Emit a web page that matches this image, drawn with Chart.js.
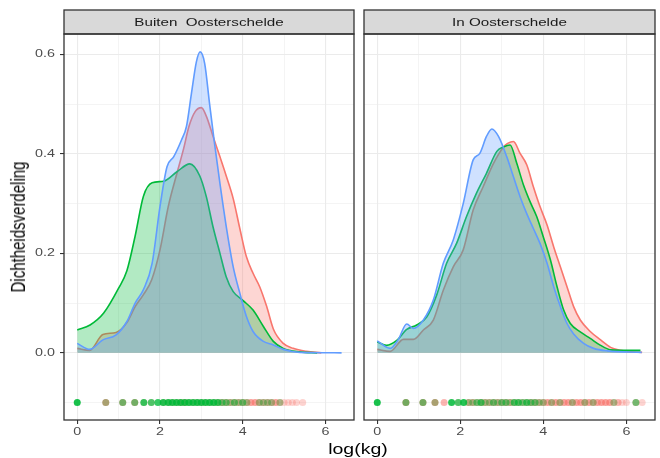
<!DOCTYPE html>
<html lang="nl">
<head>
<meta charset="UTF-8" />
<title>Dichtheidsverdeling log(kg)</title>
<script src="https://cdn.jsdelivr.net/npm/chart.js"></script>
<style>
    body {
        margin: 0;
        background: #fff;
        font-family: "Liberation Sans", Arial, sans-serif;
    }
    #wrap {
        position: relative;
        width: 660px;
        height: 458px;
    }
    canvas {
        position: absolute;
        top: 0;
    }
    #buiten { left: 0; }
    #in { left: 360px; }
    .ytitle {
        position: absolute;
        left: 18px;
        top: 227px;
        transform: translate(-50%, -50%) rotate(-90deg) scaleY(1.3);
        font-size: 15px;
        color: #000;
        white-space: nowrap;
    }
    .xtitle {
        position: absolute;
        left: 358px;
        top: 448px;
        transform: translate(-50%, -50%) scaleX(1.3);
        font-size: 15px;
        color: #000;
        white-space: nowrap;
    }
</style>
</head>
<body>
<div id="wrap">
    <canvas id="buiten" width="358" height="458"></canvas>
    <canvas id="in" width="300" height="458"></canvas>
    <div class="ytitle">Dichtheidsverdeling</div>
    <div class="xtitle">log(kg)</div>
</div>

<script>
const facets = ["Buiten  Oosterschelde", "In Oosterschelde"];
const xTicks = [0, 1, 2, 3, 4, 5, 6];
const yTicks = [-0.1, 0, 0.1, 0.2, 0.3, 0.4, 0.5, 0.6];
const rugY = -0.1;

// --- Buiten Oosterschelde: density curves ---
const buitenRedX = [0, 0.3, 0.62, 0.94, 1.2, 1.4, 1.6, 1.8, 2.0, 2.2, 2.41, 2.57, 2.7, 2.85, 3.0, 3.12, 3.28, 3.45, 3.6, 3.77, 3.93, 4.09, 4.25, 4.41, 4.58, 4.74, 4.98, 5.22, 5.54, 5.9];
const buitenRedY = [0.009, 0.005, 0.037, 0.041, 0.061, 0.093, 0.117, 0.147, 0.207, 0.294, 0.361, 0.41, 0.455, 0.485, 0.493, 0.476, 0.436, 0.394, 0.356, 0.31, 0.25, 0.193, 0.16, 0.133, 0.093, 0.048, 0.019, 0.009, 0.003, 0.0];

const buitenGreenX = [0, 0.31, 0.64, 1.0, 1.2, 1.4, 1.6, 1.81, 2.09, 2.41, 2.72, 2.96, 3.12, 3.28, 3.45, 3.6, 3.77, 4.01, 4.25, 4.5, 4.74, 4.98, 5.38, 5.8];
const buitenGreenY = [0.046, 0.056, 0.08, 0.13, 0.165, 0.235, 0.315, 0.342, 0.345, 0.364, 0.38, 0.356, 0.314, 0.254, 0.2, 0.153, 0.123, 0.105, 0.086, 0.053, 0.023, 0.009, 0.002, 0.0];

const buitenBlueX = [0, 0.3, 0.62, 0.94, 1.2, 1.4, 1.6, 1.81, 2.0, 2.17, 2.33, 2.52, 2.64, 2.76, 2.88, 2.97, 3.08, 3.2, 3.32, 3.45, 3.6, 3.77, 3.93, 4.09, 4.25, 4.5, 4.74, 4.98, 5.38, 6.39];
const buitenBlueY = [0.019, 0.007, 0.026, 0.036, 0.063, 0.1, 0.127, 0.18, 0.294, 0.374, 0.394, 0.428, 0.455, 0.521, 0.585, 0.605, 0.582, 0.5, 0.42, 0.34, 0.255, 0.173, 0.12, 0.073, 0.043, 0.023, 0.016, 0.007, 0.001, 0.0];

// --- In Oosterschelde: density curves ---
const inRedX = [0, 0.31, 0.63, 0.87, 1.11, 1.35, 1.59, 1.83, 2.07, 2.31, 2.55, 2.8, 3.04, 3.14, 3.28, 3.44, 3.6, 3.76, 3.92, 4.09, 4.25, 4.41, 4.57, 4.73, 4.89, 5.13, 5.38, 5.62, 5.86, 6.1, 6.38];
const inRedY = [0.007, 0.003, 0.027, 0.027, 0.046, 0.066, 0.126, 0.173, 0.207, 0.287, 0.334, 0.381, 0.414, 0.421, 0.425, 0.401, 0.378, 0.334, 0.294, 0.257, 0.213, 0.173, 0.133, 0.093, 0.066, 0.043, 0.026, 0.011, 0.005, 0.002, 0.001];

const inGreenX = [0, 0.22, 0.47, 0.71, 0.95, 1.19, 1.43, 1.67, 1.91, 2.15, 2.39, 2.63, 2.88, 3.04, 3.2, 3.36, 3.52, 3.68, 3.84, 4.0, 4.17, 4.33, 4.49, 4.65, 4.89, 5.13, 5.38, 5.62, 5.86, 6.34];
const inGreenY = [0.022, 0.015, 0.025, 0.047, 0.056, 0.072, 0.116, 0.18, 0.22, 0.274, 0.321, 0.361, 0.405, 0.414, 0.418, 0.381, 0.338, 0.304, 0.274, 0.233, 0.187, 0.133, 0.086, 0.059, 0.042, 0.029, 0.015, 0.006, 0.005, 0.005];

const inBlueX = [0, 0.31, 0.5, 0.71, 0.87, 1.11, 1.35, 1.59, 1.83, 2.07, 2.31, 2.47, 2.63, 2.76, 2.92, 3.12, 3.28, 3.44, 3.6, 3.76, 3.92, 4.09, 4.25, 4.41, 4.57, 4.73, 4.97, 5.21, 5.54, 6.37];
const inBlueY = [0.024, 0.009, 0.026, 0.058, 0.049, 0.066, 0.106, 0.18, 0.227, 0.3, 0.388, 0.401, 0.435, 0.45, 0.435, 0.394, 0.354, 0.314, 0.28, 0.25, 0.22, 0.18, 0.133, 0.093, 0.059, 0.038, 0.019, 0.009, 0.004, 0.001];

// --- observations along the bottom (position, number of fish per group) ---
const buitenRugX = [0, 0.69, 1.10, 1.39, 1.61, 1.79, 1.95, 2.08, 2.2, 2.3, 2.4, 2.5, 2.6, 2.7, 2.8, 2.9, 3.0, 3.1, 3.2, 3.3, 3.4, 3.5, 3.6, 3.7, 3.8, 3.9, 4.0, 4.1, 4.2, 4.3, 4.4, 4.5, 4.6, 4.7, 4.8, 4.9, 5.0, 5.1, 5.2, 5.3, 5.45];
const buitenRugRed = [0, 4, 3, 3, 1, 1, 0, 1, 1, 1, 1, 2, 2, 1, 1, 1, 1, 1, 1, 1, 2, 3, 3, 3, 3, 3, 3, 3, 3, 3, 3, 3, 3, 3, 3, 2, 1, 1, 1, 1, 1];
const buitenRugGreen = [6, 1, 2, 2, 4, 3, 4, 5, 5, 5, 5, 5, 5, 5, 5, 5, 5, 5, 5, 5, 4, 2, 2, 1, 2, 1, 2, 1, 0, 0, 1, 1, 1, 1, 0, 1, 0, 0, 0, 0, 0];

const inRugX = [0, 0.69, 1.10, 1.39, 1.61, 1.79, 1.95, 2.08, 2.2, 2.3, 2.4, 2.5, 2.6, 2.7, 2.8, 2.9, 3.0, 3.1, 3.2, 3.3, 3.4, 3.5, 3.6, 3.7, 3.8, 3.9, 4.0, 4.1, 4.2, 4.3, 4.4, 4.5, 4.6, 4.7, 4.8, 4.9, 5.0, 5.1, 5.2, 5.3, 5.4, 5.5, 5.6, 5.7, 5.8, 5.9, 6.0, 6.23, 6.38];
const inRugRed = [0, 4, 4, 4, 2, 0, 1, 0, 3, 3, 2, 3, 3, 3, 3, 3, 3, 3, 3, 2, 2, 2, 2, 3, 3, 3, 3, 3, 3, 3, 3, 3, 3, 3, 3, 3, 3, 3, 3, 3, 3, 3, 3, 2, 2, 1, 1, 2, 1];
const inRugGreen = [6, 2, 2, 1, 0, 5, 3, 5, 1, 1, 2, 3, 1, 1, 2, 1, 2, 2, 1, 3, 3, 2, 3, 2, 2, 1, 1, 0, 1, 0, 1, 0, 0, 1, 0, 0, 1, 0, 1, 0, 0, 0, 0, 1, 0, 0, 0, 2, 0];

const RED = "#F8766D";
const GREEN = "#00BA38";
const BLUE = "#619CFF";

function rgba(hex, a) {
    const n = parseInt(hex.slice(1), 16);
    return `rgba(${(n >> 16) & 255}, ${(n >> 8) & 255}, ${n & 255}, ${a})`;
}

function isMajorX(v) {
    return Math.round(v) % 2 === 0;
}
function isMajorY(v) {
    return Math.round(v * 10) % 2 === 0;
}

function densitySet(xs, ys, color, order) {
    return {
        data: xs.map((x, i) => ({ x: x, y: ys[i] })),
        borderColor: color,
        backgroundColor: rgba(color, 0.3),
        borderWidth: 1.6,
        pointRadius: 0,
        fill: "origin",
        cubicInterpolationMode: "monotone",
        order: order,
    };
}

// each dot gets darker the more fish share the same weight
function rugSet(xs, counts, color, order) {
    return {
        data: xs.map((x, i) => ({ x: x, y: rugY, n: counts[i] })).filter((p) => p.n > 0),
        showLine: false,
        fill: false,
        pointRadius: 3.5,
        pointBorderWidth: 0,
        pointBackgroundColor: (ctx) => (ctx.raw ? rgba(color, 1 - Math.pow(0.68, ctx.raw.n)) : color),
        order: order,
    };
}

function stretchedText(ctx, text, x, y, align, sx) {
    ctx.save();
    ctx.translate(x, y);
    ctx.scale(sx, 1);
    ctx.textAlign = align;
    ctx.fillText(text, 0, 0);
    ctx.restore();
}

// strip on top, panel border and tick labels
const facetPlugin = {
    id: "facet",
    afterDraw(chart, args, opts) {
        const { ctx, chartArea: a, scales } = chart;
        const w = a.right - a.left;
        ctx.save();
        ctx.fillStyle = "#D9D9D9";
        ctx.fillRect(a.left, a.top - 24, w, 24);
        ctx.strokeStyle = "#333333";
        ctx.lineWidth = 1.3;
        ctx.strokeRect(a.left, a.top - 24, w, 24);
        ctx.strokeRect(a.left, a.top, w, a.bottom - a.top);

        ctx.fillStyle = "#1A1A1A";
        ctx.font = '11.5px "Liberation Sans", Arial, sans-serif';
        ctx.textBaseline = "middle";
        stretchedText(ctx, opts.label, (a.left + a.right) / 2, a.top - 11.5, "center", 1.32);

        ctx.fillStyle = "#4D4D4D";
        ctx.font = '11px "Liberation Sans", Arial, sans-serif';
        scales.x.ticks.forEach((t) => {
            if (!isMajorX(t.value)) return;
            stretchedText(ctx, String(t.value), scales.x.getPixelForValue(t.value), a.bottom + 12, "center", 1.3);
        });
        if (opts.yLabels) {
            scales.y.ticks.forEach((t) => {
                if (!isMajorY(t.value)) return;
                stretchedText(ctx, t.value.toFixed(1), a.left - 9, scales.y.getPixelForValue(t.value), "right", 1.3);
            });
        }
        ctx.restore();
    },
};

function gridStyle(major) {
    return {
        color: "#EBEBEB",
        lineWidth: (c) => (c.tick && major(c.tick.value) ? 1.1 : 0.55),
        tickColor: (c) => (c.tick && major(c.tick.value) ? "#333333" : "rgba(0,0,0,0)"),
        tickLength: 4,
        tickWidth: 1.1,
    };
}

function makePanel(id, label, yLabels, datasets) {
    const xGrid = gridStyle(isMajorX);
    const yGrid = gridStyle(isMajorY);
    yGrid.drawTicks = yLabels;
    return new Chart(document.getElementById(id), {
        type: "line",
        data: { datasets: datasets },
        plugins: [facetPlugin],
        options: {
            responsive: false,
            animation: false,
            devicePixelRatio: 1,
            layout: { padding: { top: 34, right: yLabels ? 4 : 5, left: 0, bottom: 0 } },
            plugins: {
                legend: { display: false },
                tooltip: { enabled: false },
                facet: { label: label, yLabels: yLabels },
            },
            scales: {
                x: {
                    type: "linear",
                    min: -0.32,
                    max: 6.69,
                    afterBuildTicks: (s) => {
                        s.ticks = xTicks.map((v) => ({ value: v }));
                    },
                    afterFit: (s) => {
                        s.height = 38;
                    },
                    border: { display: false },
                    grid: xGrid,
                    ticks: { display: false },
                },
                y: {
                    type: "linear",
                    min: -0.135,
                    max: 0.641,
                    afterBuildTicks: (s) => {
                        s.ticks = yTicks.map((v) => ({ value: v }));
                    },
                    afterFit: (s) => {
                        s.width = yLabels ? 64 : 4;
                    },
                    border: { display: false },
                    grid: yGrid,
                    ticks: { display: false },
                },
            },
        },
    });
}

makePanel("buiten", facets[0], true, [
    densitySet(buitenRedX, buitenRedY, RED, 5),
    densitySet(buitenGreenX, buitenGreenY, GREEN, 4),
    densitySet(buitenBlueX, buitenBlueY, BLUE, 3),
    rugSet(buitenRugX, buitenRugRed, RED, 2),
    rugSet(buitenRugX, buitenRugGreen, GREEN, 1),
]);

makePanel("in", facets[1], false, [
    densitySet(inRedX, inRedY, RED, 5),
    densitySet(inGreenX, inGreenY, GREEN, 4),
    densitySet(inBlueX, inBlueY, BLUE, 3),
    rugSet(inRugX, inRugRed, RED, 2),
    rugSet(inRugX, inRugGreen, GREEN, 1),
]);
</script>
</body>
</html>
